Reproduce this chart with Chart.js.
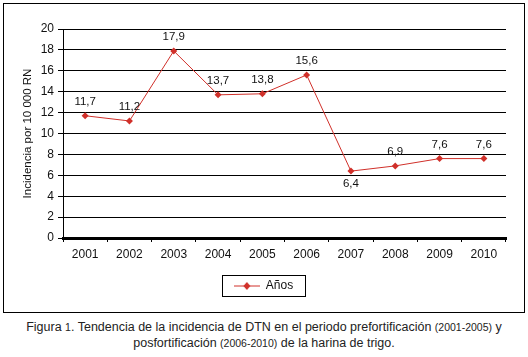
<!DOCTYPE html>
<html>
<head>
<meta charset="utf-8">
<script src="https://cdn.jsdelivr.net/npm/chart.js@4"></script>
<style>
  body { margin: 0; background: #fff; width: 528px; height: 357px; position: relative; overflow: hidden; }
  #caja { position: absolute; left: 3px; top: 3px; width: 520px; height: 308px; border: 1px solid #000; }
  #caption { position: absolute; left: 0; top: 319px; width: 528px; text-align: center;
             font-family: 'Liberation Sans', Arial, sans-serif; font-size: 12.5px; color: #222; }
  #caption div { height: 16px; line-height: 16px; white-space: nowrap; }
  #caption .n { font-size: 10.5px; line-height: 1; }
</style>
</head>
<body>
<div id="caja"><canvas id="grafico" width="520" height="308"></canvas></div>
<div id="caption">
  <div>Figura <span class="n">1</span>. Tendencia de la incidencia de DTN en el periodo prefortificación <span class="n">(2001-2005)</span> y</div>
  <div>posfortificación <span class="n">(2006-2010)</span> de la harina de trigo.</div>
</div>
<script>
// datos del grafico
const anios = ['2001', '2002', '2003', '2004', '2005', '2006', '2007', '2008', '2009', '2010'];
const incidencia = [11.7, 11.2, 17.9, 13.7, 13.8, 15.6, 6.4, 6.9, 7.6, 7.6];
const etiquetas = ['11,7', '11,2', '17,9', '13,7', '13,8', '15,6', '6,4', '6,9', '7,6', '7,6'];
const ticksY = [0, 2, 4, 6, 8, 10, 12, 14, 16, 18, 20];

const rojo = '#d0302a';
const fuente = "'Liberation Sans', Arial, sans-serif";

// icono de la leyenda: linea con rombo
const icono = document.createElement('canvas');
icono.width = 26; icono.height = 10;
(function () {
    const c = icono.getContext('2d');
    c.strokeStyle = rojo; c.lineWidth = 1;
    c.beginPath(); c.moveTo(0, 5); c.lineTo(26, 5); c.stroke();
    c.fillStyle = rojo;
    c.beginPath(); c.moveTo(13, 1); c.lineTo(16.5, 5); c.lineTo(13, 9); c.lineTo(9.5, 5); c.closePath(); c.fill();
})();

// etiquetas de valores sobre los puntos
const etiquetasPlugin = {
    id: 'etiquetas',
    afterDatasetsDraw(chart) {
        const ctx = chart.ctx;
        const puntos = chart.getDatasetMeta(0).data;
        ctx.save();
        ctx.font = '11.5px ' + fuente;
        ctx.fillStyle = '#111';
        ctx.textAlign = 'center';
        ctx.textBaseline = 'middle';
        puntos.forEach((p, i) => {
            const abajo = i === 6;  // 6,4 va debajo
            ctx.fillText(etiquetas[i], p.x, abajo ? p.y + 13 : p.y - 14);
        });
        ctx.restore();
    }
};

// marco alrededor de la leyenda
const marcoLeyenda = {
    id: 'marcoLeyenda',
    afterDraw(chart) {
        const hb = chart.legend.legendHitBoxes[0];
        if (!hb) return;
        const ctx = chart.ctx;
        ctx.save();
        ctx.strokeStyle = '#000';
        ctx.lineWidth = 1;
        ctx.strokeRect(Math.round(hb.left - 12) + 0.5, Math.round(hb.top - 5) + 0.5, Math.round(hb.width + 24), 21);
        ctx.restore();
    }
};

new Chart(document.getElementById('grafico'), {
    type: 'line',
    data: {
        labels: anios,
        datasets: [{
            label: 'Años',
            data: incidencia,
            borderColor: rojo,
            backgroundColor: rojo,
            borderWidth: 1,
            pointStyle: 'rectRot',
            pointRadius: 3.5,
            pointBorderWidth: 0,
            tension: 0
        }]
    },
    options: {
        responsive: false,
        animation: false,
        layout: { padding: { left: 17, right: 18, top: 25, bottom: 10 } },
        plugins: {
            tooltip: { enabled: false },
            legend: {
                position: 'bottom',
                labels: {
                    usePointStyle: true,
                    pointStyle: icono,
                    pointStyleWidth: 26,
                    color: '#111',
                    padding: 8,
                    font: { family: fuente, size: 12 }
                }
            }
        },
        scales: {
            x: {
                offset: true,
                afterFit: s => { s.height = 34; },
                grid: {
                    offset: true,
                    drawOnChartArea: false,
                    color: '#000',
                    tickLength: 4
                },
                border: { color: '#000', width: 3 },
                ticks: { color: '#111', padding: 5, font: { family: fuente, size: 12 } }
            },
            y: {
                min: 0,
                max: 20,
                afterFit: s => { s.width = 42; },
                afterBuildTicks: s => { s.ticks = ticksY.map(v => ({ value: v })); },
                grid: { color: '#000', tickLength: 5 },
                border: { color: '#000', width: 1 },
                ticks: { color: '#111', padding: 4, font: { family: fuente, size: 12 } },
                title: {
                    display: true,
                    text: 'Incidencia por 10 000 RN',
                    color: '#111',
                    padding: 0,
                    font: { family: fuente, size: 11.5 }
                }
            }
        }
    },
    plugins: [etiquetasPlugin, marcoLeyenda]
});
</script>
</body>
</html>
